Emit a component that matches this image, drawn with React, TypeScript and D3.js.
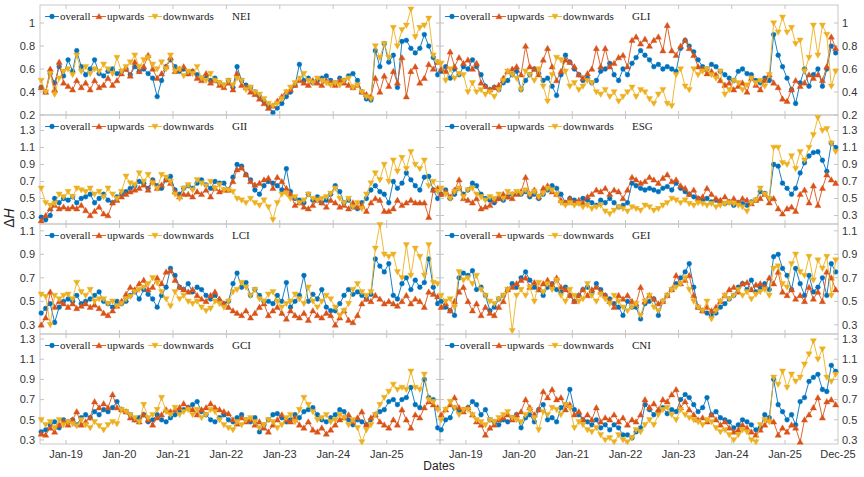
import * as d3 from "d3";

// monthly observations Jul-2018 .. Dec-2025, values in hundredths of ΔH
const start = new Date(2018, 6, 15);
const months = d3.range(90).map((i) => d3.timeMonth.offset(start, i));

const neiO = [44,40,56,48,62,54, 68,58,76,62,55,60,68,56,54,58,60,56, 58,60,55,62,58,60,56,52,36,50,62,68, 62,58,60,56,58,55,52,54,50,52,48,46, 50,44,62,50,46,44,40,36,32,28,22,26, 30,36,40,46,64,50,52,48,50,52,54,50, 48,52,50,54,56,50,40,34,33,76,62,82, 66,72,44,84,85,78,74,78,90,80,70,55];
const neiU = [44,40,60,42,66,48, 45,42,50,44,48,42,50,44,46,52,46,50, 56,60,54,66,58,62,72,60,52,56,62,70, 58,60,62,56,58,52,50,56,48,50,46,44, 48,42,56,46,44,40,38,34,30,26,28,32, 36,40,42,46,50,48,46,50,48,46,50,48, 46,50,48,46,44,46,40,38,36,52,40,54, 45,58,48,70,36,58,62,48,52,64,60,66];
const neiD = [50,40,56,38,52,58, 60,55,72,58,62,56,60,58,64,60,56,70, 58,62,66,72,62,68,70,64,60,66,60,72, 58,60,54,58,56,62,52,50,56,50,48,46, 50,46,52,50,42,44,40,38,34,30,28,30, 34,40,44,48,52,56,50,48,52,50,48,46, 48,46,50,52,44,46,40,36,34,80,70,82, 70,96,80,94,98,112,88,96,98,104,72,66];

const gliO = [58,62,52,60,55,62, 60,68,62,55,45,42,44,42,48,50,55,58, 42,50,55,60,56,50,52,45,37,55,72,66, 60,55,50,52,48,50,58,60,65,55,50,60, 55,65,70,76,72,68,62,64,60,62,60,58, 78,85,80,75,68,62,60,64,62,58,55,52, 50,58,60,56,55,50,48,52,50,90,72,62, 52,42,30,48,60,45,55,60,45,60,80,74];
const gliU = [60,58,75,62,70,65, 68,60,65,48,45,42,44,46,52,58,60,62, 55,80,62,60,55,68,78,62,50,58,68,66, 62,55,52,56,60,78,62,78,62,65,70,72, 62,85,88,82,86,80,85,88,76,98,76,72, 80,85,78,72,62,60,56,58,55,50,46,48, 42,45,48,40,52,46,42,50,55,48,44,34, 32,42,50,45,48,55,52,55,50,62,88,78];
const gliD = [65,50,60,52,56,55, 40,48,40,42,38,40,36,42,50,58,55,52, 42,58,55,50,60,45,32,55,70,68,58,45, 48,42,45,50,48,40,38,42,36,40,32,36, 40,44,36,42,40,34,30,38,42,30,28,55, 60,45,42,60,55,58,60,55,52,58,38,42, 50,48,42,46,52,48,50,45,55,100,92,105, 92,96,82,85,58,70,98,72,98,90,45,58];

const giiO = [28,25,30,50,45,50, 48,52,45,50,52,55,45,50,55,48,45,52, 55,58,62,65,70,68,62,72,65,62,72,76, 60,55,62,65,62,68,72,66,62,70,68,68, 60,75,90,88,78,72,60,55,65,70,68,65, 60,85,58,50,48,45,55,48,52,45,48,55, 65,58,45,48,40,38,45,50,60,65,58,55, 45,70,62,68,80,72,65,60,75,76,60,50];
const giiU = [24,30,38,42,38,40, 38,40,38,42,36,30,35,40,32,30,45,48, 52,55,58,60,62,66,60,70,62,66,72,68, 58,52,55,55,52,58,55,60,52,62,58,60, 60,70,84,86,78,70,66,68,72,74,62,75, 70,62,55,42,45,40,38,42,48,45,40,48, 45,40,42,38,45,40,42,35,45,50,48,35, 35,38,48,42,45,48,45,45,45,28,60,62];
const giiD = [62,45,42,44,55,52, 58,52,62,60,58,62,55,58,52,62,55,50, 58,76,68,66,80,70,78,68,62,78,75,70, 55,50,62,66,60,72,68,65,70,62,66,60, 60,58,50,48,45,50,45,42,48,40,25,45, 55,56,50,52,45,48,55,50,48,50,52,56, 62,50,45,50,40,45,38,55,68,80,72,90, 70,95,82,98,85,105,90,85,95,65,70,58];

const esgO = [55,60,50,55,62,55, 60,68,65,55,50,48,45,50,48,52,55,56, 55,58,52,55,50,55,60,65,62,55,45,50, 48,45,50,48,45,42,48,45,50,45,40,42, 45,68,65,62,60,62,60,58,62,64,60,68, 62,58,55,52,50,48,50,46,48,45,44,46, 42,45,44,42,46,48,58,56,50,90,88,68, 62,55,62,80,92,100,104,105,95,82,115,110];
const esgU = [55,58,52,60,72,50, 48,45,50,38,40,42,48,50,55,52,50,55, 58,75,55,60,52,62,65,58,55,48,45,50, 45,48,45,52,55,60,58,62,55,60,58,50, 60,75,72,68,70,75,72,68,74,78,70,72, 65,62,55,60,50,52,62,55,50,48,52,46, 50,45,50,48,44,48,50,55,45,50,38,32, 38,40,35,55,60,45,65,42,62,78,72,68];
const esgD = [62,55,50,58,62,52, 60,62,55,52,48,52,50,55,50,58,55,58, 56,60,55,58,52,56,62,60,55,45,42,45, 42,44,40,42,38,40,42,35,32,36,40,38, 35,40,38,36,42,40,36,38,42,45,50,48, 45,48,44,42,45,44,42,44,40,42,44,45, 44,42,40,35,45,48,62,55,50,110,110,92, 90,100,85,105,95,110,125,145,130,132,115,105];

const lciO = [40,44,48,32,45,50, 52,50,55,48,50,52,55,58,50,48,45,50, 48,50,55,58,52,60,56,52,45,55,62,78, 72,62,60,65,58,62,60,55,52,55,50,48, 50,65,74,62,66,55,60,55,50,50,48,55, 50,66,45,50,55,72,50,56,52,60,45,42, 42,48,55,60,56,58,55,52,56,86,80,75, 82,55,52,65,70,60,68,62,66,86,62,48];
const lciU = [30,36,58,45,50,48, 45,48,44,46,48,45,47,44,40,38,42,46, 50,56,62,60,65,68,60,62,70,65,75,76, 68,62,60,58,60,55,52,50,55,58,52,48, 45,42,40,38,42,36,40,45,48,38,42,45, 40,35,42,38,36,40,34,42,38,36,40,38, 30,36,42,34,32,38,48,52,50,55,52,48, 50,48,46,50,55,48,52,50,45,58,56,54];
const lciD = [56,54,30,55,52,55, 56,52,66,58,55,60,50,52,52,48,50,46, 48,52,54,58,60,62,65,70,66,58,52,46, 58,52,55,50,48,50,45,42,44,50,48,45, 50,58,60,66,62,55,60,52,50,56,58,50, 45,48,50,56,52,48,62,50,45,50,55,52, 45,38,42,48,60,65,58,55,58,95,115,90, 88,90,75,70,98,72,95,88,72,98,66,65];

const geiO = [50,45,42,38,70,74, 72,76,60,62,55,42,45,52,55,60,65,62, 70,75,68,62,60,55,62,65,60,58,62,55, 50,55,60,62,58,65,60,55,52,48,45,38, 50,45,45,35,48,50,52,38,50,55,60,65, 70,75,82,62,45,42,40,38,40,45,48,52, 55,62,65,60,68,58,62,65,60,88,90,78, 72,60,78,65,55,72,58,62,70,55,82,75];
const geiU = [45,48,42,50,58,62, 50,42,48,38,45,40,38,45,50,60,62,65, 68,70,62,66,60,65,68,64,70,62,60,55, 50,55,60,55,60,62,58,55,50,45,55,52, 55,50,48,62,50,55,52,48,50,55,60,72, 65,68,72,55,45,42,45,42,45,50,55,60, 62,58,65,66,60,64,65,62,70,65,75,58, 55,60,52,55,50,62,52,58,50,75,70,60];
const geiD = [55,50,52,45,75,68, 70,65,72,60,55,50,48,52,55,60,25,55, 60,55,62,50,66,58,65,60,68,55,50,60, 55,50,52,65,55,50,56,52,48,55,50,45, 42,45,48,38,50,55,45,42,50,55,60,62, 65,70,60,50,45,42,50,35,42,50,55,52, 55,60,55,58,52,56,58,60,55,78,80,65, 62,82,90,75,72,88,68,85,78,88,55,85];

const gciO = [38,40,45,48,42,50, 48,50,45,52,55,52,58,55,60,58,62,68, 60,58,55,50,52,55,48,50,55,50,48,52, 55,58,60,62,65,68,58,55,50,48,52,55, 50,48,52,55,50,48,52,38,45,50,55,56, 52,48,50,55,52,58,60,62,55,50,48,52, 55,60,58,50,45,50,48,45,50,55,58,60, 68,70,65,70,72,82,65,62,90,72,70,42];
const gciU = [36,35,42,38,45,48, 45,50,58,45,48,52,68,62,66,62,75,62, 60,58,52,50,48,55,50,45,52,55,60,58, 60,62,66,62,60,55,60,62,66,62,60,58, 56,50,46,52,48,50,45,48,42,38,45,50, 55,50,48,52,45,42,48,40,38,42,36,40, 45,50,52,55,48,52,58,45,52,55,48,45, 42,50,45,60,50,42,55,52,62,68,65,62];
const gciD = [50,45,48,42,50,45, 48,46,44,50,45,42,48,44,40,45,48,46, 60,58,55,52,48,65,52,55,60,72,58,55, 62,55,58,60,55,60,52,55,60,58,50,45, 42,40,48,45,50,52,48,42,45,50,48,42, 45,52,55,48,60,72,65,58,50,52,55,48, 50,55,52,45,50,42,28,40,45,55,65,72, 78,85,80,82,80,98,82,80,95,70,68,60];

const cniO = [40,50,52,62,58,60, 62,68,65,55,60,50,48,45,50,48,52,55, 42,52,55,48,60,65,50,52,48,62,65,80, 60,55,50,48,45,50,42,45,40,45,42,35, 35,32,38,42,65,60,55,58,62,56,60,58, 70,75,72,65,58,62,72,55,58,52,50,48, 42,45,50,48,45,40,42,55,52,90,65,58, 50,55,45,68,72,88,92,95,80,78,104,98];
const cniU = [55,60,65,72,62,58, 62,55,48,45,35,42,45,50,52,55,50,55, 58,70,62,55,60,78,72,80,70,72,60,65, 55,58,50,55,50,62,48,52,50,55,48,52, 45,50,48,55,70,62,66,60,70,68,75,80, 62,68,60,55,50,52,48,55,50,45,48,42, 38,40,45,42,38,35,40,45,50,48,35,42, 38,45,42,28,50,55,62,72,52,68,70,65];
const cniD = [50,60,68,62,55,60, 60,55,50,48,45,50,48,52,55,58,52,50, 48,55,60,52,40,58,55,62,60,55,65,62, 42,48,45,40,38,42,35,30,32,28,35,30, 28,32,40,38,45,50,45,55,60,62,55,50, 60,55,52,50,48,45,50,48,42,38,40,35, 30,35,40,38,30,28,45,50,48,92,85,98, 82,95,88,92,105,115,128,110,120,92,88,95];

const seriesNames = ["overall", "upwards", "downwards"];
const colors = ["#0072BD", "#D95319", "#EDB120"];
const yearTicks = d3.range(2019, 2026).map((y) => new Date(y, 0, 1));
const xTickLabels = ["Jan-19", "Jan-20", "Jan-21", "Jan-22", "Jan-23", "Jan-24", "Jan-25"];
const endTick = new Date(2025, 11, 31);
const endLabel = "Dec-25";

const rowTicks = [
  [0.2, 0.4, 0.6, 0.8, 1],
  [0.3, 0.5, 0.7, 0.9, 1.1, 1.3],
  [0.3, 0.5, 0.7, 0.9, 1.1],
  [0.3, 0.5, 0.7, 0.9, 1.1, 1.3],
];
const rowTickLabels = [
  ["0.2", "0.4", "0.6", "0.8", "1"],
  ["0.3", "0.5", "0.7", "0.9", "1.1", "1.3"],
  ["0.3", "0.5", "0.7", "0.9", "1.1"],
  ["0.3", "0.5", "0.7", "0.9", "1.1", "1.3"],
];

const panels = [
  { name: "NEI", row: 0, col: 0, data: [neiO, neiU, neiD] },
  { name: "GLI", row: 0, col: 1, data: [gliO, gliU, gliD] },
  { name: "GII", row: 1, col: 0, data: [giiO, giiU, giiD] },
  { name: "ESG", row: 1, col: 1, data: [esgO, esgU, esgD] },
  { name: "LCI", row: 2, col: 0, data: [lciO, lciU, lciD] },
  { name: "GEI", row: 2, col: 1, data: [geiO, geiU, geiD] },
  { name: "GCI", row: 3, col: 0, data: [gciO, gciU, gciD] },
  { name: "CNI", row: 3, col: 1, data: [cniO, cniU, cniD] },
];

// layout
const W = 864, H = 477;
const colX = [[40, 440], [440, 838]];
const rowY = [[5, 115], [115, 224], [224, 334], [334, 444]];
const rowDomain = [[0.2, 1.157], [0.2, 1.482], [0.222, 1.158], [0.26, 1.35]];
const axisCol = "#c4c4c4";
const tickFont = "'Liberation Sans', Arial, sans-serif";
const serif = "'Liberation Serif', 'Times New Roman', serif";

function Marker({ k, x, y }: { k: number; x: number; y: number }) {
  const c = colors[k];
  if (k === 0) return <circle cx={x} cy={y} r={2.4} fill={c} stroke={c} strokeWidth={0.4} />;
  const s = 3.1;
  const d = k === 1
    ? `M${x},${y - s}L${x + s},${y + s * 0.75}L${x - s},${y + s * 0.75}Z`
    : `M${x},${y + s}L${x + s},${y - s * 0.75}L${x - s},${y - s * 0.75}Z`;
  return <path d={d} fill={c} stroke={c} strokeWidth={0.4} />;
}

function Panel({ p }: { p: (typeof panels)[number] }) {
  const [x0, x1] = colX[p.col];
  const [y0, y1] = rowY[p.row];
  const x = d3.scaleTime().domain([new Date(2018, 6, 7), endTick]).range([x0, x1]);
  const y = d3.scaleLinear().domain(rowDomain[p.row]).range([y1, y0]);
  const line = d3.line<number>().x((_, i) => x(months[i])).y((d) => y(d / 100));
  const bottom = p.row === 3;
  const legX = [5, 52, 108];
  const ly = y0 + 11.5;

  return (
    <g>
      <rect x={x0} y={y0} width={x1 - x0} height={y1 - y0} fill="none" stroke={axisCol} strokeWidth={0.9} />
      {yearTicks.map((t, i) => (
        <g key={i}>
          <line x1={x(t)} x2={x(t)} y1={y1} y2={y1 - 4} stroke={axisCol} />
          <line x1={x(t)} x2={x(t)} y1={y0} y2={y0 + 4} stroke={axisCol} />
          {bottom && (
            <text x={x(t)} y={y1 + 14} textAnchor="middle" fontSize={11} fontFamily={tickFont} fill="#333">
              {xTickLabels[i]}
            </text>
          )}
        </g>
      ))}
      {bottom && p.col === 1 && (
        <text x={x(endTick)} y={y1 + 14} textAnchor="middle" fontSize={11} fontFamily={tickFont} fill="#333">
          {endLabel}
        </text>
      )}
      {rowTicks[p.row].map((t, i) => (
        <g key={i}>
          <line x1={x0} x2={x0 + 4} y1={y(t)} y2={y(t)} stroke={axisCol} />
          <line x1={x1} x2={x1 - 4} y1={y(t)} y2={y(t)} stroke={axisCol} />
          <text
            x={p.col === 0 ? x0 - 5 : x1 + 4}
            y={y(t)}
            dy="0.35em"
            textAnchor={p.col === 0 ? "end" : "start"}
            fontSize={11}
            fontFamily={tickFont}
            fill="#333"
          >
            {rowTickLabels[p.row][i]}
          </text>
        </g>
      ))}
      {p.data.map((s, k) => (
        <g key={k}>
          <path d={line(s) ?? ""} fill="none" stroke={colors[k]} strokeWidth={0.9} />
          {s.map((v, i) => (
            <Marker key={i} k={k} x={x(months[i])} y={y(v / 100)} />
          ))}
        </g>
      ))}
      {seriesNames.map((n, k) => (
        <g key={n}>
          <line x1={x0 + legX[k]} x2={x0 + legX[k] + 14} y1={ly} y2={ly} stroke={colors[k]} strokeWidth={0.9} />
          <Marker k={k} x={x0 + legX[k] + 7} y={ly} />
          <text x={x0 + legX[k] + 15} y={ly} dy="0.33em" fontSize={11} fontFamily={serif} fill="#222">
            {n}
          </text>
        </g>
      ))}
      <text x={x0 + 192} y={ly} dy="0.33em" fontSize={11} fontFamily={serif} fill="#222">
        {p.name}
      </text>
    </g>
  );
}

export default function App() {
  return (
    <svg width={W} height={H} style={{ position: "absolute", left: 0, top: 0, background: "#fff" }}>
      <rect width={W} height={H} fill="#fff" />
      {panels.map((p) => (
        <Panel key={p.name} p={p} />
      ))}
      <text transform="translate(14,218) rotate(-90)" textAnchor="middle" fontSize={14} fontFamily={tickFont} fill="#222">
        Δ<tspan fontStyle="italic">H</tspan>
      </text>
      <text x={439} y={470} textAnchor="middle" fontSize={12} fontFamily={tickFont} fill="#222">
        Dates
      </text>
    </svg>
  );
}
